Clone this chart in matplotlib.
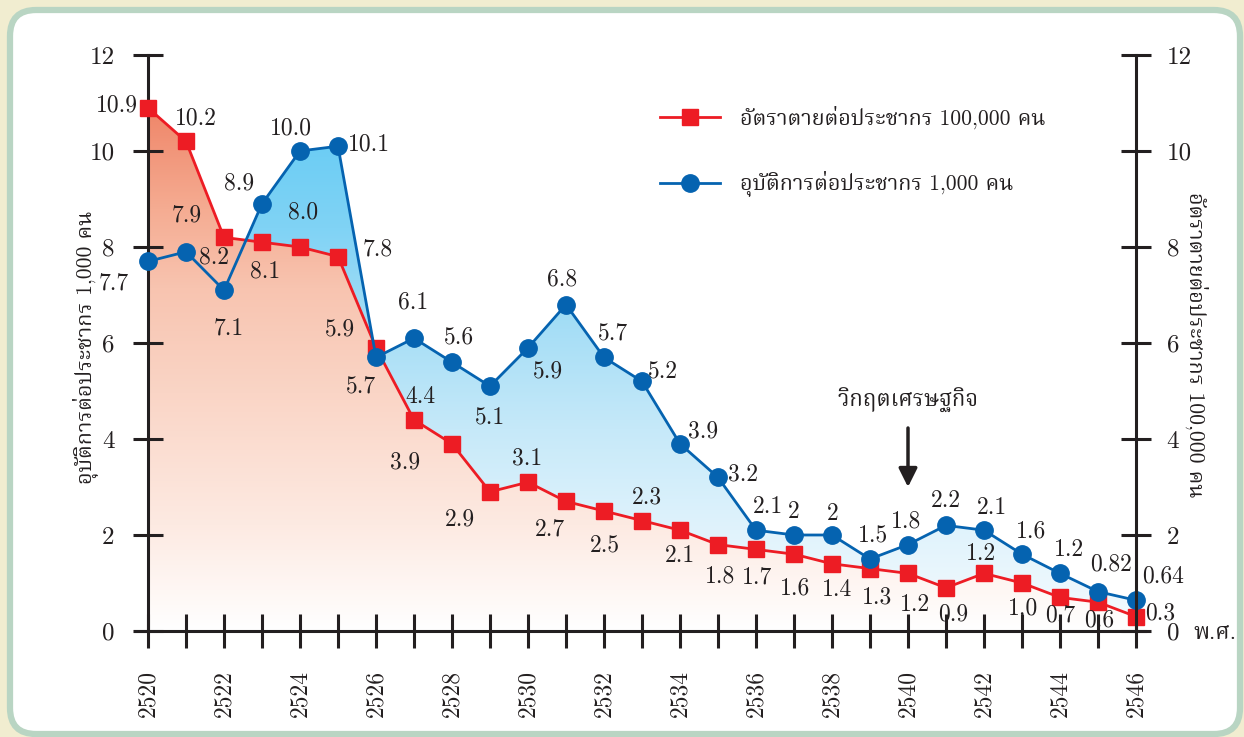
import numpy as np
import matplotlib
matplotlib.use('Agg')
import matplotlib.pyplot as plt
from matplotlib import font_manager
from matplotlib.ft2font import FT2Font
from matplotlib.colors import LinearSegmentedColormap
from matplotlib.patches import Polygon, FancyBboxPatch
from matplotlib.path import Path
from matplotlib.lines import Line2D
from matplotlib.transforms import IdentityTransform

# data (Buddhist era years)
years = list(range(2520, 2547))
death = [10.9, 10.2, 8.2, 8.1, 8.0, 7.8, 5.9, 4.4, 3.9, 2.9, 3.1, 2.7, 2.5, 2.3, 2.1,
         1.8, 1.7, 1.6, 1.4, 1.3, 1.2, 0.9, 1.2, 1.0, 0.7, 0.6, 0.3]
incid = [7.7, 7.9, 7.1, 8.9, 10.0, 10.1, 5.7, 6.1, 5.6, 5.1, 5.9, 6.8, 5.7, 5.2, 3.9,
         3.2, 2.1, 2, 2, 1.5, 1.8, 2.2, 2.1, 1.6, 1.2, 0.82, 0.64]
death_lbl = ['%.1f' % v for v in death]
incid_lbl = ['7.7', '7.9', '7.1', '8.9', '10.0', '10.1', '5.7', '6.1', '5.6', '5.1', '5.9',
             '6.8', '5.7', '5.2', '3.9', '3.2', '2.1', '2', '2', '1.5', '1.8', '2.2', '2.1',
             '1.6', '1.2', '0.82', '0.64']
death_name = 'อัตราตายต่อประชากร 100,000 คน'
incid_name = 'อุบัติการต่อประชากร 1,000 คน'
crisis = 'วิกฤตเศรษฐกิจ'

# label offsets in pixels (dx, dy downwards)
death_off = [(-31, -2), (10, -23), (-10, 20), (3, 29), (3, -35), (40, -7), (-36, -18), (6, -23),
             (-47, 19), (-30, 28), (-1, -24), (-16, 28), (1, 34), (5, -23), (0, 26), (2, 32),
             (1, 28), (1, 34), (5, 26), (7, 29), (7, 32), (7, 27), (-3, -19), (1, 25), (0, 18),
             (1, 18), (24, -3)]
incid_off = [(-34, 22), (1, -36), (5, 38), (-23, -20), (-9, -23), (31, -2), (-15, 29), (-1, -36),
             (7, -25), (0, 31), (20, 24), (-4, -25), (9, -24), (21, -10), (23, -12), (25, -3),
             (12, -23), (0, -23), (1, -21), (3, -24), (-2, -23), (0, -24), (8, -22), (9, -23),
             (9, -23), (13, -27), (27, -24)]

# find a font with thai glyphs, looped serif ones first
thai_fonts = []
for f in font_manager.fontManager.ttflist:
    try:
        if ord('อ') in FT2Font(f.fname).get_charmap():
            thai_fonts.append(f.name)
    except Exception:
        pass
thai_font = thai_fonts[0] if thai_fonts else 'DejaVu Sans'
for name in ['TH Sarabun New', 'Norasi', 'Kinnari', 'Noto Serif Thai', 'Noto Sans Thai Looped',
             'Garuda', 'Loma']:
    if name in thai_fonts:
        thai_font = name
        break

num_font = ['cmr10', 'DejaVu Serif']
txt_font = ['cmr10', thai_font, 'DejaVu Sans']

RED = '#ED1C24'
BLUE = '#0563B0'
INK = '#231F20'

fig = plt.figure(figsize=(12.44, 7.37), dpi=100, facecolor='#F1EDD0')
panel = FancyBboxPatch((10, 3), 1230, 724, boxstyle='round,pad=0,rounding_size=26',
                       transform=IdentityTransform(), facecolor='white', edgecolor='#B9D5C3',
                       lw=4.5, zorder=-5)
fig.patches.append(panel)

ax = fig.add_axes([134.7 / 1244, 1 - 631 / 737, 1010.8 / 1244, 576 / 737])
ax.set_facecolor('none')
ax.set_xlim(2519.65, 2546.25)
ax.set_ylim(0, 12)

# red gradient area under the death rate
red_cmap = LinearSegmentedColormap.from_list('r', [(0, '#FFFFFF'), (0.2, '#FDEAE2'), (0.45, '#FAD5C6'),
                                                   (0.65, '#F8C4B0'), (0.8, '#F5AC92'), (1, '#EF8467')])
grad = np.linspace(0, 1, 256).reshape(-1, 1)
im = ax.imshow(grad, cmap=red_cmap, extent=(2520, 2546, 0, 11), origin='lower', aspect='auto',
               interpolation='bicubic', zorder=1)
poly = Polygon([(2520, 0)] + list(zip(years, death)) + [(2546, 0)], closed=True,
               facecolor='none', edgecolor='none')
ax.add_patch(poly)
im.set_clip_path(poly)

# blue gradient between the two lines
blue_cmap = LinearSegmentedColormap.from_list('b', [(0, '#F5FBFE'), (0.2, '#E0F3FC'), (0.4, '#C6E9F9'),
                                                    (0.6, '#A6DEF6'), (0.8, '#80D3F5'), (1, '#68CCF4')])
coll = ax.fill_between(years, death, incid, where=np.array(incid) >= np.array(death),
                       interpolate=True, facecolor='none', edgecolor='none')
clip = Path.make_compound_path(*coll.get_paths())
im2 = ax.imshow(grad, cmap=blue_cmap, extent=(2520, 2546, 0, 10.5), origin='lower', aspect='auto',
                interpolation='bicubic', zorder=1.5)
im2.set_clip_path(clip, ax.transData)
ax.set_xlim(2519.65, 2546.25)
ax.set_ylim(0, 12)

ax.plot(years, death, color=RED, lw=2, marker='s', ms=11.5, mec=RED, zorder=3, clip_on=False)
ax.plot(years, incid, color=BLUE, lw=2, marker='o', ms=12.5, mec=BLUE, zorder=4, clip_on=False)

for x, v, s, (dx, dy) in zip(years, death, death_lbl, death_off):
    ax.annotate(s, (x, v), xytext=(dx, -dy), textcoords='offset pixels', ha='center', va='center',
                fontsize=17, family=num_font, color=INK, zorder=5)
for x, v, s, (dx, dy) in zip(years, incid, incid_lbl, incid_off):
    ax.annotate(s, (x, v), xytext=(dx, -dy), textcoords='offset pixels', ha='center', va='center',
                fontsize=17, family=num_font, color=INK, zorder=5)

# axes look
for side in ['top', 'right']:
    ax.spines[side].set_visible(False)
ax.spines['left'].set_position(('data', 2520))
for side in ['left', 'bottom']:
    ax.spines[side].set_linewidth(2.2)
    ax.spines[side].set_color(INK)
ax.set_xticks(years)
ax.set_xticklabels([str(y) if y % 2 == 0 else '' for y in years], rotation=90, family=num_font,
                   fontsize=17)
ax.set_yticks(range(0, 13, 2))
ax.set_yticklabels([str(v) for v in range(0, 13, 2)], family=num_font, fontsize=18)
ax.tick_params(axis='x', direction='inout', length=24, width=2.2, color=INK, pad=16, labelcolor=INK)
ax.tick_params(axis='y', direction='inout', length=22, width=2.2, color=INK, pad=13, labelcolor=INK)

ax2 = ax.twinx()
ax2.set_ylim(0, 12)
for side in ['top', 'left', 'bottom']:
    ax2.spines[side].set_visible(False)
ax2.spines['right'].set_position(('data', 2546))
ax2.spines['right'].set_linewidth(2.2)
ax2.spines['right'].set_color(INK)
ax2.set_yticks(range(0, 13, 2))
ax2.set_yticklabels([str(v) for v in range(0, 13, 2)], family=num_font, fontsize=18)
ax2.tick_params(axis='y', direction='inout', length=22, width=2.2, color=INK, pad=11, labelcolor=INK)

# axis titles
fig.text(85 / 1244, 1 - 347 / 737, incid_name, rotation=90, ha='center', va='center',
         fontsize=15.5, family=txt_font, color=INK)
fig.text(1197 / 1244, 1 - 345 / 737, death_name, rotation=-90, ha='center', va='center',
         fontsize=15.5, family=txt_font, color=INK)
fig.text(1215 / 1244, 1 - 633 / 737, 'พ.ศ.', ha='center', va='center', fontsize=16,
         family=txt_font, color=INK)

# legend
for yy, c, m, name in [(117, RED, 's', death_name), (183, BLUE, 'o', incid_name)]:
    fy = 1 - yy / 737
    fig.add_artist(Line2D([660 / 1244, 690 / 1244, 720 / 1244], [fy, fy, fy], color=c, lw=2,
                          marker=m, ms=12.5 if m == 'o' else 11.5, markevery=[1]))
    fig.text(740 / 1244, fy, name, ha='left', va='center', fontsize=15.5, family=txt_font, color=INK)

# economic crisis arrow
ax.annotate('', xy=(2540, (631 - 487) / 48), xytext=(2540, (631 - 428) / 48),
            arrowprops=dict(arrowstyle='-|>', color=INK, lw=2.5, mutation_scale=28,
                            shrinkA=0, shrinkB=0), zorder=6)
ax.text(2540, (631 - 400) / 48, crisis, ha='center', va='center', fontsize=16, family=txt_font,
        color=INK, zorder=6)

fig.savefig('out.png', dpi=100, facecolor=fig.get_facecolor())
